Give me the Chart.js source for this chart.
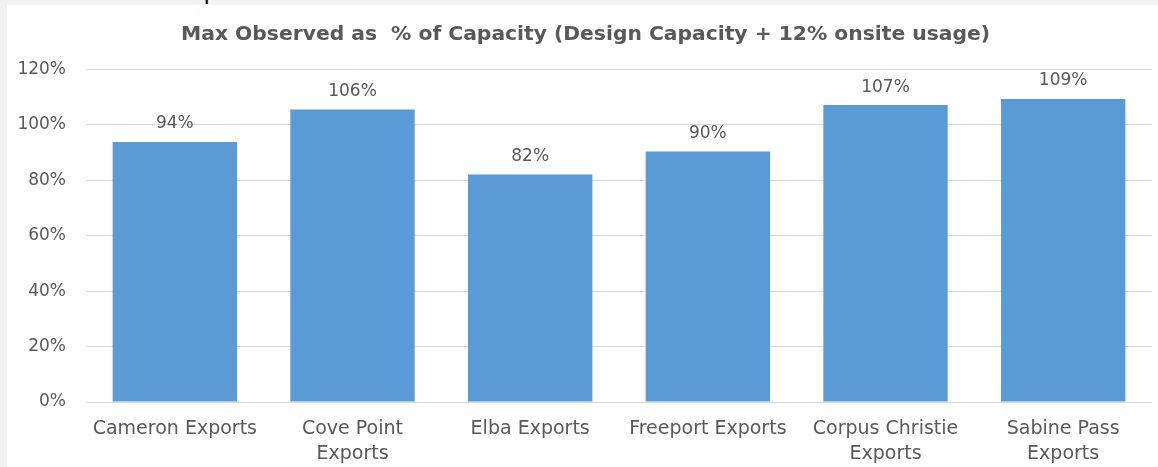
<!DOCTYPE html>
<html>
<head>
<meta charset="utf-8">
<script src="https://cdn.jsdelivr.net/npm/chart.js@4.4.1/dist/chart.umd.min.js"></script>
<style>
  html, body { margin: 0; padding: 0; background: #f2f2f2; width: 1158px; height: 467px; overflow: hidden; }
  #frag { position: absolute; left: 204px; top: 0; height: 4px; overflow: hidden; }
  #frag span { display: block; font: 24px "Liberation Sans", sans-serif; color: #000; margin-top: -21px; line-height: 24px; }
  #panel { position: absolute; left: 7px; top: 5px; width: 1151px; height: 462px; background: #fff; }
  canvas { display: block; }
</style>
</head>
<body>
<div id="frag"><span>p</span></div>
<div id="panel"><canvas id="c" width="1151" height="462"></canvas></div>
<script>
const titleText = "Max Observed as  % of Capacity (Design Capacity + 12% onsite usage)";
const categories = [
  "Cameron Exports",
  ["Cove Point", "Exports"],
  "Elba Exports",
  "Freeport Exports",
  ["Corpus Christie", "Exports"],
  ["Sabine Pass", "Exports"]
];
const maxObservedPct = [93.8, 105.5, 82.1, 90.4, 107.1, 109.3];
const yTicks = [0, 20, 40, 60, 80, 100, 120];

const FONT = '"DejaVu Sans", sans-serif';
const TEXT = '#595959';

const valueLabels = {
  id: 'valueLabels',
  afterDatasetsDraw(chart) {
    const ctx = chart.ctx;
    ctx.save();
    ctx.font = '17px ' + FONT;
    ctx.fillStyle = TEXT;
    ctx.textAlign = 'center';
    ctx.textBaseline = 'middle';
    chart.getDatasetMeta(0).data.forEach((bar, i) => {
      ctx.fillText(Math.round(maxObservedPct[i]) + '%', bar.x, bar.y - 18);
    });
    ctx.restore();
  }
};

new Chart(document.getElementById('c'), {
  type: 'bar',
  data: {
    labels: categories,
    datasets: [{
      data: maxObservedPct,
      backgroundColor: '#5b9bd5',
      borderWidth: 0,
      barPercentage: 0.70,
      categoryPercentage: 1.0
    }]
  },
  options: {
    responsive: false,
    animation: false,
    devicePixelRatio: 1,
    layout: { padding: { left: 12, right: 6, top: 0, bottom: 0 } },
    plugins: {
      legend: { display: false },
      tooltip: { enabled: false },
      title: {
        display: true,
        text: titleText,
        color: TEXT,
        font: { family: FONT, size: 20.3, weight: 'bold', lineHeight: 1.2 },
        padding: { top: 18, bottom: 22 }
      }
    },
    scales: {
      x: {
        afterFit(scale) { scale.height = 65; },
        grid: { display: false },
        border: { display: false },
        ticks: {
          color: TEXT,
          font: { family: FONT, size: 19, lineHeight: 1.3 },
          padding: 7,
          maxRotation: 0,
          autoSkip: false
        }
      },
      y: {
        min: 0,
        max: 120,
        afterFit(scale) { scale.width = 67; },
        afterBuildTicks(scale) { scale.ticks = yTicks.map(v => ({ value: v })); },
        grid: { color: '#d9d9d9', lineWidth: 1, drawTicks: false },
        border: { display: false },
        ticks: {
          color: TEXT,
          font: { family: FONT, size: 17 },
          padding: 20,
          callback: v => v + '%'
        }
      }
    }
  },
  plugins: [valueLabels]
});
</script>
</body>
</html>
